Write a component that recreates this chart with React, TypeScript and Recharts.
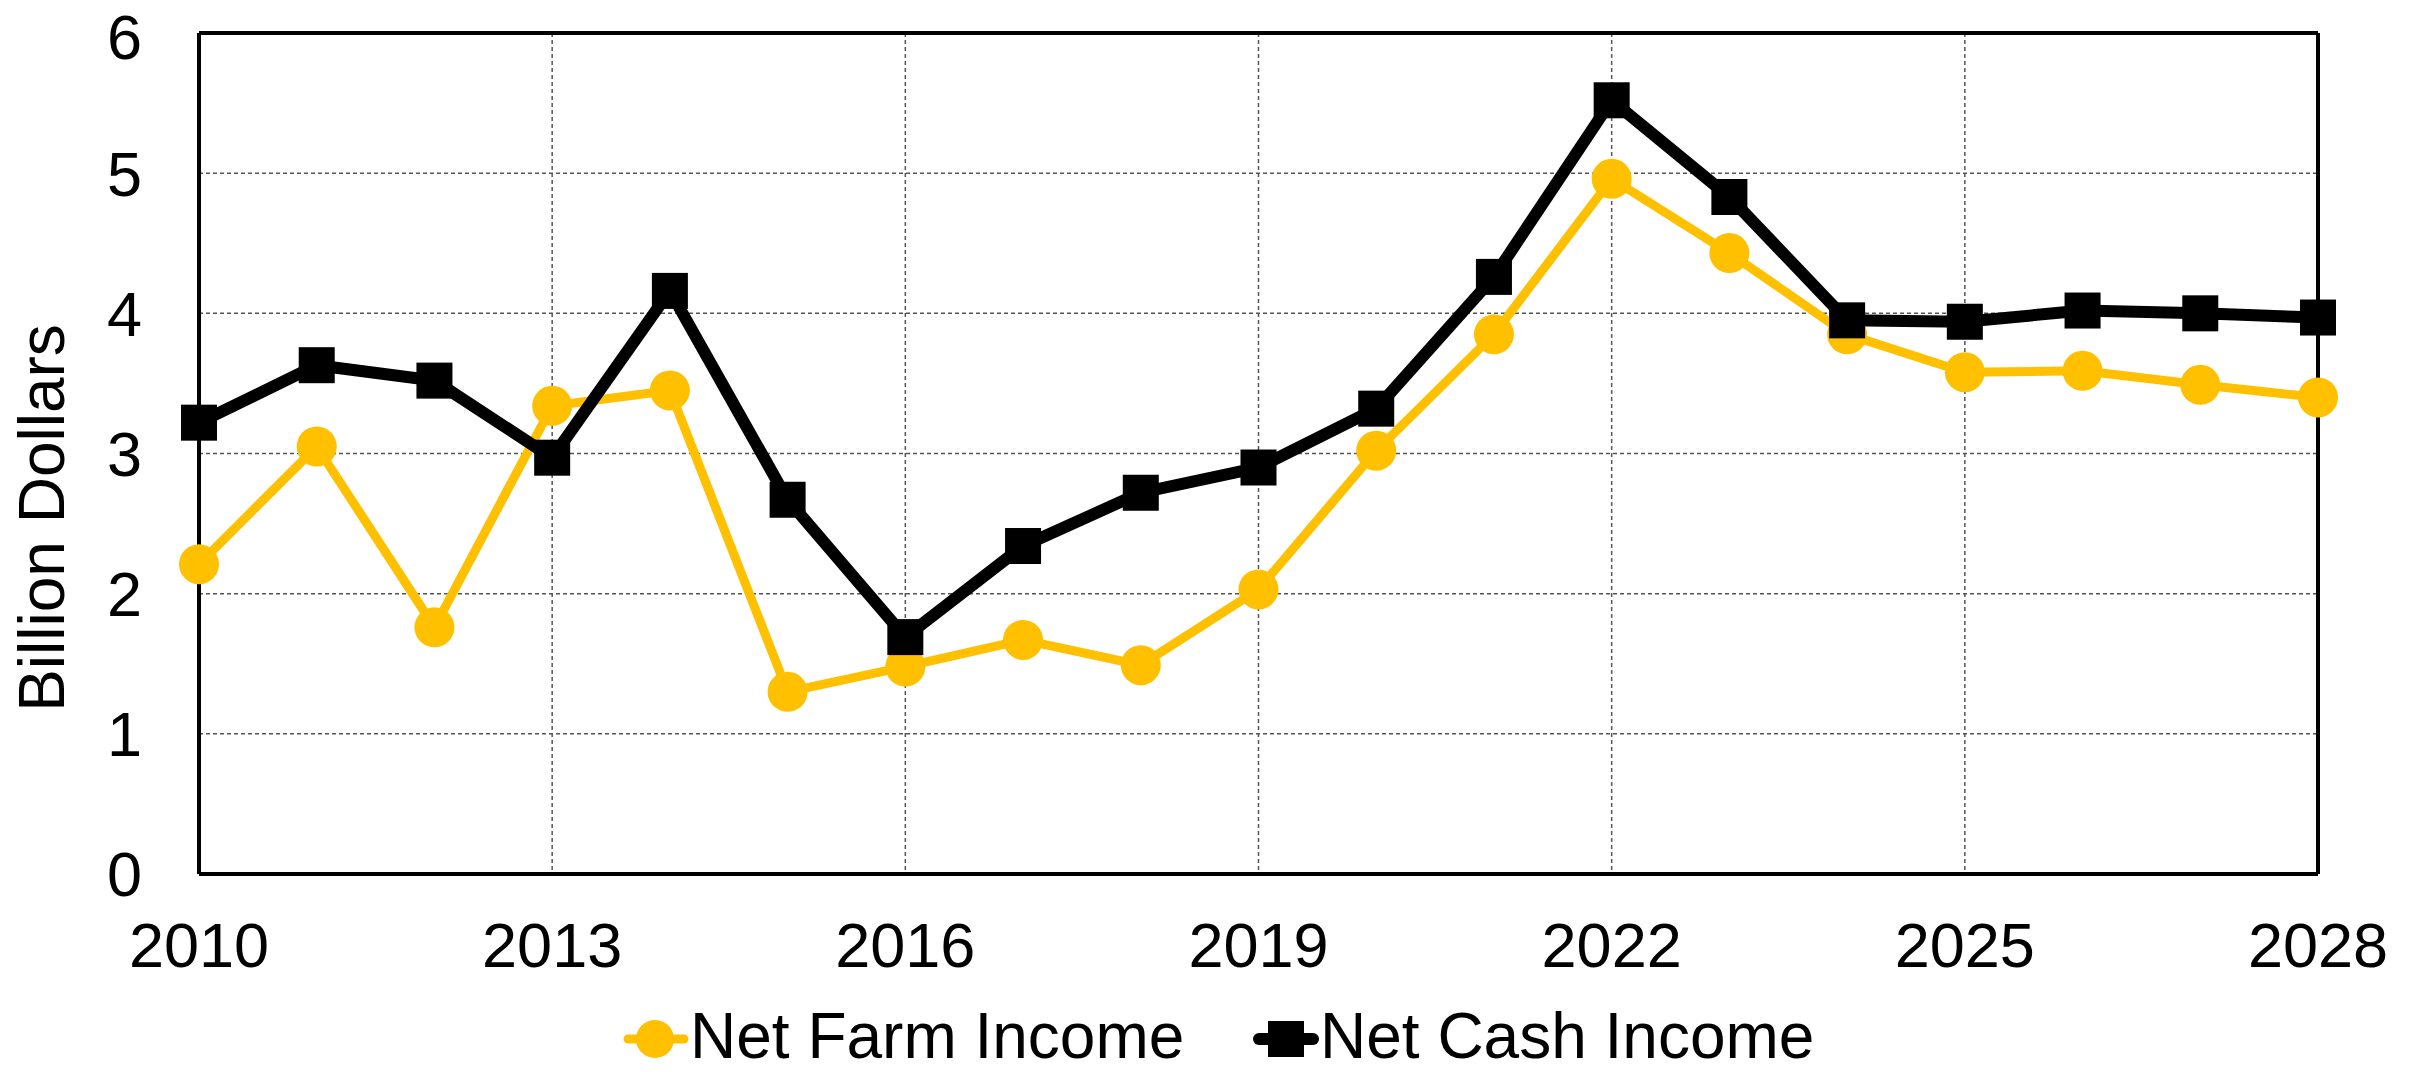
import { LineChart, Line, XAxis, YAxis, CartesianGrid, ReferenceLine } from 'recharts'

const years = [2010, 2011, 2012, 2013, 2014, 2015, 2016, 2017, 2018, 2019, 2020, 2021, 2022, 2023, 2024, 2025, 2026, 2027, 2028]
const netFarmIncome = [2.21, 3.05, 1.76, 3.34, 3.45, 1.3, 1.48, 1.67, 1.49, 2.03, 3.02, 3.85, 4.96, 4.43, 3.85, 3.58, 3.59, 3.49, 3.4]
const netCashIncome = [3.22, 3.63, 3.52, 2.97, 4.16, 2.67, 1.69, 2.34, 2.72, 2.9, 3.32, 4.26, 5.52, 4.83, 3.95, 3.94, 4.02, 4.0, 3.97]
const xTicks = [2010, 2013, 2016, 2019, 2022, 2025, 2028]
const yTicks = [0, 1, 2, 3, 4, 5, 6]

const YELLOW = '#FFC000'
const FONT = '"Liberation Sans", Arial, sans-serif'

const data = years.map((year, i) => ({ year, farm: netFarmIncome[i], cash: netCashIncome[i] }))

function SquareDot(props: any) {
  const { cx, cy, index } = props
  if (cx == null || cy == null) return null
  return <rect key={`sq-${index}`} x={cx - 18} y={cy - 18} width={36} height={36} fill="#000" />
}

function AxisTitle() {
  return (
    <text x={64} y={518} transform="rotate(-90, 64, 518)" textAnchor="middle"
      fontSize={64} fontFamily={FONT} fill="#000">
      Billion Dollars
    </text>
  )
}

export default function App() {
  return (
    <div style={{ position: 'absolute', left: 0, top: 0, width: 2420, height: 1072, background: '#fff' }}>
      <LineChart width={2420} height={1072} data={data}
        margin={{ top: 33, right: 102, bottom: 138, left: 0 }}>
        <CartesianGrid stroke="#555" strokeWidth={1.5} strokeDasharray="4 3" />
        <XAxis dataKey="year" type="number" domain={[2010, 2028]} ticks={xTicks} height={60}
          axisLine={{ stroke: '#000', strokeWidth: 4 }} tickLine={false} tickSize={0} tickMargin={48}
          tick={{ fontSize: 63, fontFamily: FONT, fill: '#000' }} />
        <YAxis domain={[0, 6]} ticks={yTicks} width={199}
          axisLine={{ stroke: '#000', strokeWidth: 4 }} tickLine={false} tickSize={0} tickMargin={57}
          tick={{ fontSize: 63, fontFamily: FONT, fill: '#000' }}
          label={<AxisTitle />} />
        <ReferenceLine y={6} stroke="#000" strokeWidth={4} />
        <ReferenceLine x={2028} stroke="#000" strokeWidth={4} />
        <Line dataKey="farm" name="Net Farm Income" stroke={YELLOW} strokeWidth={9}
          dot={{ r: 20, fill: YELLOW, stroke: 'none' }} activeDot={false} isAnimationActive={false} />
        <Line dataKey="cash" name="Net Cash Income" stroke="#000" strokeWidth={12}
          dot={<SquareDot />} activeDot={false} isAnimationActive={false} />
      </LineChart>
      <svg width={2420} height={92} style={{ position: 'absolute', left: 0, top: 980 }}>
        <line x1={628} x2={684} y1={59} y2={59} stroke={YELLOW} strokeWidth={9} strokeLinecap="round" />
        <circle cx={655} cy={59} r={19} fill={YELLOW} />
        <text x={690} y={78} fontSize={64} fontFamily={FONT} fill="#000">Net Farm Income</text>
        <line x1={1259} x2={1313} y1={59} y2={59} stroke="#000" strokeWidth={12} strokeLinecap="round" />
        <rect x={1268} y={41} width={36} height={36} fill="#000" />
        <text x={1320} y={78} fontSize={64} fontFamily={FONT} fill="#000">Net Cash Income</text>
      </svg>
    </div>
  )
}
